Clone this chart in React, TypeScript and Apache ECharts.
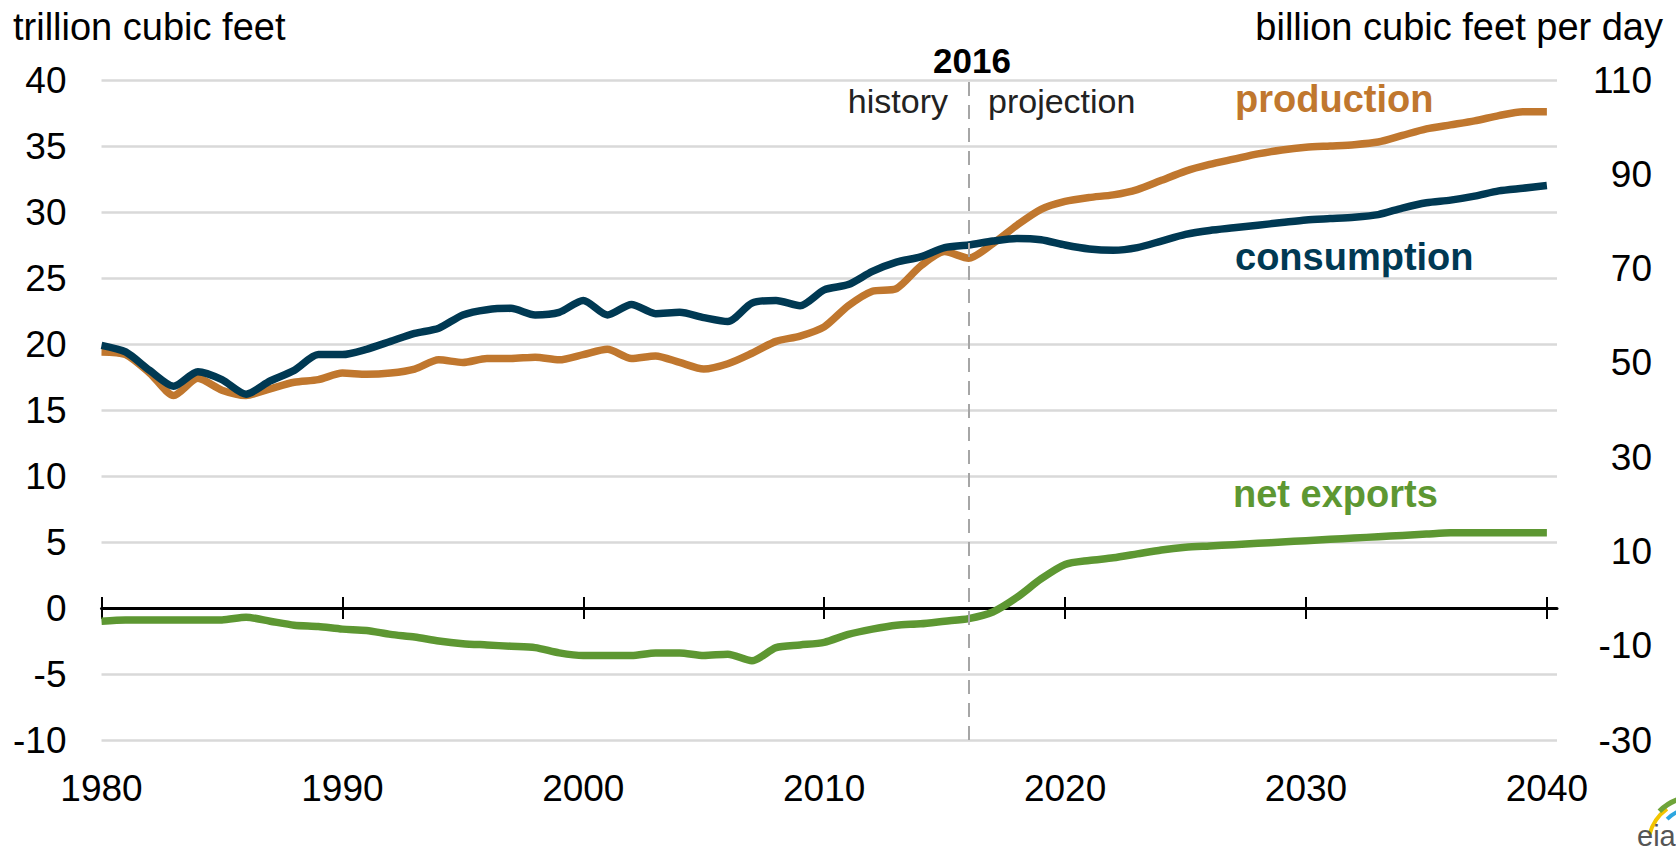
import React, { useEffect, useRef } from "react";
import * as echarts from "echarts";

const years = [
  1980, 1981, 1982, 1983, 1984, 1985, 1986, 1987, 1988, 1989,
  1990, 1991, 1992, 1993, 1994, 1995, 1996, 1997, 1998, 1999,
  2000, 2001, 2002, 2003, 2004, 2005, 2006, 2007, 2008, 2009,
  2010, 2011, 2012, 2013, 2014, 2015, 2016, 2017, 2018, 2019,
  2020, 2021, 2022, 2023, 2024, 2025, 2026, 2027, 2028, 2029,
  2030, 2031, 2032, 2033, 2034, 2035, 2036, 2037, 2038, 2039, 2040,
];

const production = [
  19.4, 19.2, 17.8, 16.1, 17.4, 16.5, 16.1, 16.6, 17.1, 17.3,
  17.8, 17.7, 17.8, 18.1, 18.8, 18.6, 18.9, 18.9, 19.0, 18.8,
  19.2, 19.6, 18.9, 19.1, 18.6, 18.1, 18.5, 19.3, 20.2, 20.6,
  21.3, 22.9, 24.0, 24.2, 25.9, 27.0, 26.5, 27.6, 29.0, 30.2,
  30.8, 31.1, 31.3, 31.7, 32.4, 33.1, 33.6, 34.0, 34.4, 34.7,
  34.9, 35.0, 35.1, 35.3, 35.8, 36.3, 36.6, 36.9, 37.3, 37.6, 37.6,
];

const consumption = [
  19.9, 19.4, 18.0, 16.8, 17.9, 17.3, 16.2, 17.2, 18.0, 19.2,
  19.2, 19.6, 20.2, 20.8, 21.2, 22.2, 22.6, 22.7, 22.2, 22.4,
  23.3, 22.2, 23.0, 22.3, 22.4, 22.0, 21.7, 23.1, 23.3, 22.9,
  24.1, 24.5, 25.5, 26.2, 26.6, 27.3, 27.5, 27.8, 28.0, 27.9,
  27.5, 27.2, 27.1, 27.3, 27.8, 28.3, 28.6, 28.8, 29.0, 29.2,
  29.4, 29.5, 29.6, 29.8, 30.3, 30.7, 30.9, 31.2, 31.6, 31.8, 32.0,
];

const netExports = [
  -1.0, -0.9, -0.9, -0.9, -0.9, -0.9, -0.7, -1.0, -1.3, -1.4,
  -1.6, -1.7, -2.0, -2.2, -2.5, -2.7, -2.8, -2.9, -3.0, -3.4,
  -3.6, -3.6, -3.6, -3.4, -3.4, -3.6, -3.5, -4.0, -3.0, -2.8,
  -2.6, -2.0, -1.6, -1.3, -1.2, -1.0, -0.8, -0.3, 0.8, 2.2,
  3.3, 3.6, 3.8, 4.1, 4.4, 4.6, 4.7, 4.8, 4.9, 5.0,
  5.1, 5.2, 5.3, 5.4, 5.5, 5.6, 5.7, 5.7, 5.7, 5.7, 5.7,
];

const tickYears = [1980, 1990, 2000, 2010, 2020, 2030, 2040];
const dividerYear = 2016;

const COLORS = {
  production: "#C0772E",
  consumption: "#003953",
  netExports: "#5D9732",
};

const FONT = "'Liberation Sans', Arial, sans-serif";

function pairs(values: number[]) {
  return years.map((y, i) => [y, values[i]]);
}

export default function App() {
  const ref = useRef<HTMLDivElement>(null);

  useEffect(() => {
    document.body.style.margin = "0";
    if (!ref.current) return;
    const chart = echarts.init(ref.current, undefined, { renderer: "svg" });

    const xBase = { type: "value", min: 1980, max: 2040.42, splitLine: { show: false } };

    const option: any = {
      animation: false,
      backgroundColor: "#ffffff",
      grid: { left: 101.5, right: 119, top: 80, bottom: 113, containLabel: false },
      xAxis: [
        {
          ...xBase,
          position: "bottom",
          axisLine: { show: false, onZero: false },
          axisTick: { show: false },
          axisLabel: {
            customValues: tickYears,
            fontSize: 37,
            color: "#000",
            fontFamily: FONT,
            margin: 30,
            formatter: (v: number) => String(v),
          },
        },
        {
          ...xBase,
          position: "bottom",
          axisLine: { show: true, onZero: true, onZeroAxisIndex: 0, lineStyle: { color: "#000", width: 3 } },
          axisTick: { show: true, customValues: tickYears, length: 11, lineStyle: { color: "#000", width: 2 } },
          axisLabel: { show: false },
        },
        {
          ...xBase,
          position: "top",
          axisLine: { show: false, onZero: true, onZeroAxisIndex: 0 },
          axisTick: { show: true, customValues: tickYears, length: 11, lineStyle: { color: "#000", width: 2 } },
          axisLabel: { show: false },
        },
      ],
      yAxis: [
        {
          type: "value",
          min: -10,
          max: 40,
          interval: 5,
          position: "left",
          axisLine: { show: false, onZero: false },
          axisTick: { show: false },
          axisLabel: { fontSize: 37, color: "#000", fontFamily: FONT, margin: 35 },
          splitLine: { show: true, lineStyle: { color: "#D9D9D9", width: 2.5 } },
        },
        {
          type: "value",
          min: -30,
          max: 110,
          interval: 20,
          position: "right",
          axisLine: { show: false, onZero: false },
          axisTick: { show: false },
          axisLabel: { fontSize: 37, color: "#000", fontFamily: FONT, margin: 95, align: "right" },
          splitLine: { show: false },
        },
      ],
      series: [
        {
          name: "production",
          type: "line",
          xAxisIndex: 0,
          yAxisIndex: 0,
          data: pairs(production),
          showSymbol: false,
          smooth: 0.25,
          lineStyle: { color: COLORS.production, width: 7.5 },
          z: 3,
          markLine: {
            silent: true,
            symbol: ["none", "none"],
            label: { show: false },
            lineStyle: { color: "#A6A6A6", type: [14, 9], width: 2 },
            data: [{ xAxis: dividerYear }],
            z: 6,
          },
        },
        {
          name: "consumption",
          type: "line",
          xAxisIndex: 0,
          yAxisIndex: 0,
          data: pairs(consumption),
          showSymbol: false,
          smooth: 0.25,
          lineStyle: { color: COLORS.consumption, width: 7.5 },
          z: 4,
        },
        {
          name: "net exports",
          type: "line",
          xAxisIndex: 0,
          yAxisIndex: 0,
          data: pairs(netExports),
          showSymbol: false,
          smooth: 0.25,
          lineStyle: { color: COLORS.netExports, width: 7.5 },
          z: 5,
        },
      ],
      graphic: [
        { type: "text", x: 13, y: 26.8, style: { text: "trillion cubic feet", font: `38px ${FONT}`, fill: "#000", align: "left", verticalAlign: "middle" } },
        { type: "text", x: 1663, y: 26.8, style: { text: "billion cubic feet per day", font: `38px ${FONT}`, fill: "#000", align: "right", verticalAlign: "middle" } },
        { type: "text", x: 972, y: 60.9, style: { text: "2016", font: `bold 35px ${FONT}`, fill: "#000", align: "center", verticalAlign: "middle" } },
        { type: "text", x: 948, y: 101.2, style: { text: "history", font: `34px ${FONT}`, fill: "#222", align: "right", verticalAlign: "middle" } },
        { type: "text", x: 988, y: 101.2, style: { text: "projection", font: `34px ${FONT}`, fill: "#222", align: "left", verticalAlign: "middle" } },
        { type: "text", x: 1235, y: 98.8, style: { text: "production", font: `bold 38px ${FONT}`, fill: COLORS.production, align: "left", verticalAlign: "middle" } },
        { type: "text", x: 1235, y: 256.8, style: { text: "consumption", font: `bold 38px ${FONT}`, fill: COLORS.consumption, align: "left", verticalAlign: "middle" } },
        { type: "text", x: 1233, y: 493.8, style: { text: "net exports", font: `bold 38px ${FONT}`, fill: COLORS.netExports, align: "left", verticalAlign: "middle" } },
        {
          type: "group",
          children: [
            { type: "arc", shape: { cx: 1694, cy: 846, r: 46, startAngle: Math.PI * 1.08, endAngle: Math.PI * 1.3 }, style: { stroke: "#F2C500", lineWidth: 4, fill: "none" } },
            { type: "arc", shape: { cx: 1694, cy: 846, r: 49, startAngle: Math.PI * 1.25, endAngle: Math.PI * 1.5 }, style: { stroke: "#6FA43A", lineWidth: 5, fill: "none" } },
            { type: "arc", shape: { cx: 1694, cy: 846, r: 38, startAngle: Math.PI * 1.25, endAngle: Math.PI * 1.5 }, style: { stroke: "#2DA6DF", lineWidth: 4, fill: "none" } },
            { type: "text", x: 1637, y: 836, style: { text: "eia", font: `29px ${FONT}`, fill: "#555", align: "left", verticalAlign: "middle" } },
          ],
        },
      ],
    };

    chart.setOption(option);
    return () => chart.dispose();
  }, []);

  return <div ref={ref} style={{ width: 1676, height: 853 }} />;
}
